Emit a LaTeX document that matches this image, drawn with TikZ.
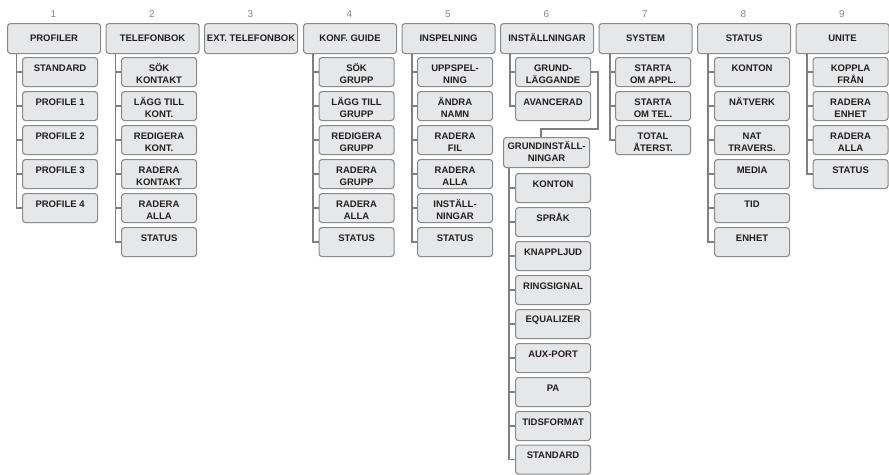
\documentclass[tikz,border=0pt]{standalone}
\usepackage{fontspec}
\setmainfont{Liberation Sans}
\definecolor{boxfill}{RGB}{230,231,232}
\definecolor{boxline}{RGB}{138,138,138}
\definecolor{connc}{RGB}{128,128,128}
\definecolor{txt}{RGB}{35,31,32}
\definecolor{numc}{RGB}{135,135,135}
\newcommand\tl[2]{\rule[-1pt]{0pt}{12pt}#1\\\rule[-1pt]{0pt}{12pt}#2}
\newcommand\gl[2]{\rule[-2.6pt]{0pt}{12pt}#1\\\rule[-2.6pt]{0pt}{12pt}#2}
\begin{document}
\begin{tikzpicture}[x=1pt,y=-1pt,
  topbox/.style={draw=boxline, fill=boxfill, rounded corners=3pt, line width=1.1pt,
    minimum width=93pt, minimum height=30pt, inner sep=0pt, anchor=north west,
    text=txt, font=\bfseries\fontsize{9.5}{12}\selectfont, text height=6.8pt, text depth=0pt},
  item/.style={draw=boxline, fill=boxfill, rounded corners=3pt, line width=1.1pt,
    minimum width=75pt, minimum height=29pt, inner sep=0pt, anchor=north west,
    text=txt, font=\bfseries\fontsize{9.5}{12}\selectfont, align=center},
  gbox/.style={item, minimum width=86pt, minimum height=30pt},
  num/.style={text=numc, font=\fontsize{10}{12}\selectfont, inner sep=0pt},
  conn/.style={draw=connc, line width=1.8pt}
]
\path[use as bounding box] (0,0) rectangle (889,474);

% column numbers
\node[num] (n1) at (53.5,14) {1};
\node[num] (n2) at (152,14) {2};
\node[num] (n3) at (250.5,14) {3};
\node[num] (n4) at (349.5,14) {4};
\node[num] (n5) at (448,14) {5};
\node[num] (n6) at (546.5,14) {6};
\node[num] (n7) at (645,14) {7};
\node[num] (n8) at (743.5,14) {8};
\node[num] (n9) at (842,14) {9};

% column 1
\node[topbox] (p1) at (7,23) {PROFILER};
\node[item] (p1a) at (22,57) {\tl{STANDARD}{}};
\node[item] (p1b) at (22,91) {\tl{PROFILE 1}{}};
\node[item] (p1c) at (22,125) {\tl{PROFILE 2}{}};
\node[item] (p1d) at (22,159) {\tl{PROFILE 3}{}};
\node[item] (p1e) at (22,193) {\tl{PROFILE 4}{}};

% column 2
\node[topbox] (p2) at (105.5,23) {TELEFONBOK};
\node[item] (p2a) at (121,57) {\tl{SÖK}{KONTAKT}};
\node[item] (p2b) at (121,91) {\tl{LÄGG TILL}{KONT.}};
\node[item] (p2c) at (121,125) {\tl{REDIGERA}{KONT.}};
\node[item] (p2d) at (121,159) {\tl{RADERA}{KONTAKT}};
\node[item] (p2e) at (121,193) {\tl{RADERA}{ALLA}};
\node[item] (p2f) at (121,227) {\tl{STATUS}{}};

% column 3
\node[topbox] (p3) at (204,23) {EXT. TELEFONBOK};

% column 4
\node[topbox] (p4) at (303,23) {KONF. GUIDE};
\node[item] (p4a) at (318.5,57) {\tl{SÖK}{GRUPP}};
\node[item] (p4b) at (318.5,91) {\tl{LÄGG TILL}{GRUPP}};
\node[item] (p4c) at (318.5,125) {\tl{REDIGERA}{GRUPP}};
\node[item] (p4d) at (318.5,159) {\tl{RADERA}{GRUPP}};
\node[item] (p4e) at (318.5,193) {\tl{RADERA}{ALLA}};
\node[item] (p4f) at (318.5,227) {\tl{STATUS}{}};

% column 5
\node[topbox] (p5) at (401.5,23) {INSPELNING};
\node[item] (p5a) at (417,57) {\tl{UPPSPEL-}{NING}};
\node[item] (p5b) at (417,91) {\tl{ÄNDRA}{NAMN}};
\node[item] (p5c) at (417,125) {\tl{RADERA}{FIL}};
\node[item] (p5d) at (417,159) {\tl{RADERA}{ALLA}};
\node[item] (p5e) at (417,193) {\tl{INSTÄLL-}{NINGAR}};
\node[item] (p5f) at (417,227) {\tl{STATUS}{}};

% column 6
\node[topbox] (p6) at (500,23) {INSTÄLLNINGAR};
\node[item] (p6a) at (515,57) {\tl{GRUND-}{LÄGGANDE}};
\node[item] (p6b) at (515,91) {\tl{AVANCERAD}{}};
\node[gbox] (g) at (503,137) {\gl{GRUNDINSTÄLL-}{NINGAR}};
\node[item] (g1) at (515,173) {\tl{KONTON}{}};
\node[item] (g2) at (515,207) {\tl{SPRÅK}{}};
\node[item] (g3) at (515,241) {\tl{KNAPPLJUD}{}};
\node[item] (g4) at (515,275) {\tl{RINGSIGNAL}{}};
\node[item] (g5) at (515,309) {\tl{EQUALIZER}{}};
\node[item] (g6) at (515,343) {\tl{AUX-PORT}{}};
\node[item] (g7) at (515,377) {\tl{PA}{}};
\node[item] (g8) at (515,411) {\tl{TIDSFORMAT}{}};
\node[item] (g9) at (515,444.5) {\tl{STANDARD}{}};
\coordinate (gj) at (541,129);

% column 7
\node[topbox] (p7) at (598.5,23) {SYSTEM};
\node[item] (p7a) at (615,57) {\tl{STARTA}{OM APPL.}};
\node[item] (p7b) at (615,91) {\tl{STARTA}{OM TEL.}};
\node[item] (p7c) at (615,125) {\tl{TOTAL}{ÅTERST.}};

% column 8
\node[topbox] (p8) at (697,23) {STATUS};
\node[item] (p8a) at (714,57) {\tl{KONTON}{}};
\node[item] (p8b) at (714,91) {\tl{NÄTVERK}{}};
\node[item] (p8c) at (714,125) {\tl{NAT}{TRAVERS.}};
\node[item] (p8d) at (714,159) {\tl{MEDIA}{}};
\node[item] (p8e) at (714,193) {\tl{TID}{}};
\node[item] (p8f) at (714,227) {\tl{ENHET}{}};

% column 9
\node[topbox] (p9) at (795.5,23) {UNITE};
\node[item] (p9a) at (812.5,57) {\tl{KOPPLA}{FRÅN}};
\node[item] (p9b) at (812.5,91) {\tl{RADERA}{ENHET}};
\node[item] (p9c) at (812.5,125) {\tl{RADERA}{ALLA}};
\node[item] (p9d) at (812.5,159) {\tl{STATUS}{}};

% connectors
\draw[conn] ([xshift=9.5pt]p1.south west) |- (p1e.west);
\foreach \c in {a,b,c,d} \draw[conn] ([xshift=-6pt]p1\c.west) -- (p1\c.west);

\draw[conn] ([xshift=10pt]p2.south west) |- (p2f.west);
\foreach \c in {a,b,c,d,e} \draw[conn] ([xshift=-5.5pt]p2\c.west) -- (p2\c.west);

\draw[conn] ([xshift=10pt]p4.south west) |- (p4f.west);
\foreach \c in {a,b,c,d,e} \draw[conn] ([xshift=-5.5pt]p4\c.west) -- (p4\c.west);

\draw[conn] ([xshift=10.5pt]p5.south west) |- (p5f.west);
\foreach \c in {a,b,c,d,e} \draw[conn] ([xshift=-5pt]p5\c.west) -- (p5\c.west);

\draw[conn] ([xshift=10pt]p6.south west) |- (p6b.west);
\draw[conn] ([xshift=-5pt]p6a.west) -- (p6a.west);
\draw[conn] (p6a.east) -- ++(7,0) |- (gj) -- (gj |- g.north);
\draw[conn] ([xshift=6pt]g.south west) |- (g9.west);
\foreach \c in {1,...,8} \draw[conn] ([xshift=-6pt]g\c.west) -- (g\c.west);

\draw[conn] ([xshift=11.5pt]p7.south west) |- (p7c.west);
\foreach \c in {a,b} \draw[conn] ([xshift=-5pt]p7\c.west) -- (p7\c.west);

\draw[conn] ([xshift=11pt]p8.south west) |- (p8f.west);
\foreach \c in {a,b,c,d,e} \draw[conn] ([xshift=-6pt]p8\c.west) -- (p8\c.west);

\draw[conn] ([xshift=11.5pt]p9.south west) |- (p9d.west);
\foreach \c in {a,b,c} \draw[conn] ([xshift=-5.5pt]p9\c.west) -- (p9\c.west);
\end{tikzpicture}
\end{document}
